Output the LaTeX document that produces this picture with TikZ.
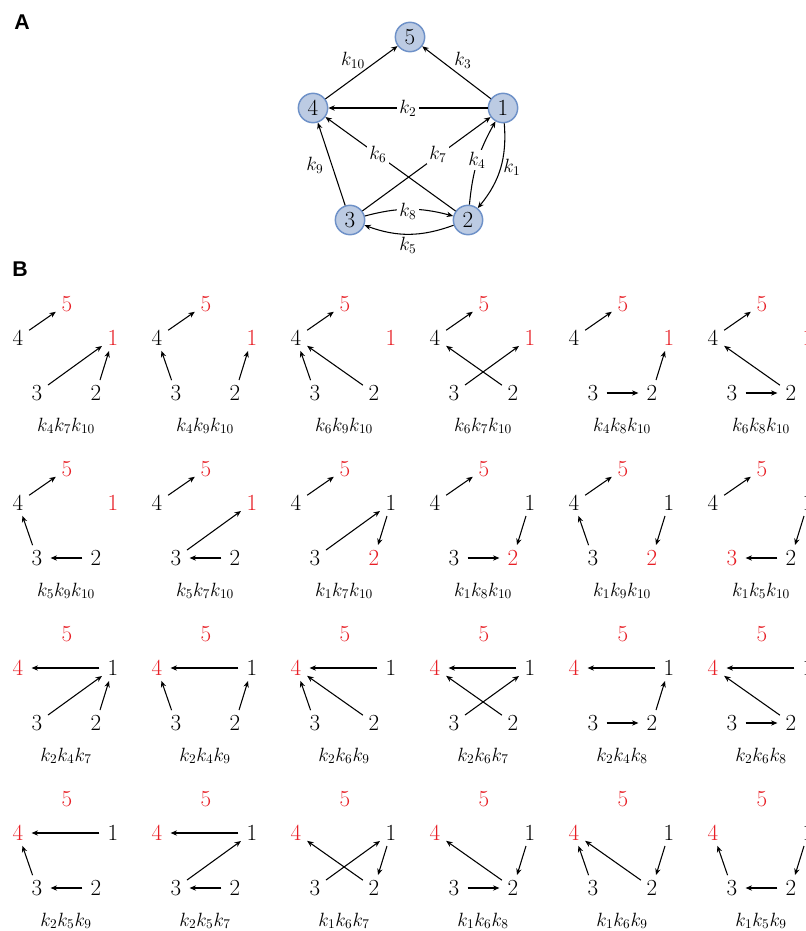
\documentclass[tikz,border=0pt]{standalone}
\usepackage{fontspec}
\newfontfamily\arialfont{Liberation Sans}
\usetikzlibrary{arrows.meta}
\definecolor{myred}{RGB}{232,30,37}
\definecolor{nodefill}{RGB}{188,203,227}
\definecolor{nodedraw}{RGB}{110,145,200}
\newcommand\mkcell[9]{%
  \begin{scope}[shift={({18+139*#2},{-(338+165*#3)})}]
    \node[dig,text=#4] (#1-5) at (49,34) {5};
    \node[dig,text=#5] (#1-4) at (0,0) {4};
    \node[dig,text=#6] (#1-1) at (95,0) {1};
    \node[dig,text=#7] (#1-3) at (19,-55) {3};
    \node[dig,text=#8] (#1-2) at (78,-55) {2};
    \node[captext] (#1-L) at (48,-93) {#9};
  \end{scope}}
\newcommand\E[3]{\draw[arr] (#1-#2) -- (#1-#3);}
\begin{document}
\begin{tikzpicture}[x=0.75pt,y=0.75pt,
  dig/.style={circle,inner sep=0pt,minimum size=20pt,font=\fontsize{17.28}{17.28}\selectfont},
  captext/.style={inner sep=0pt,anchor=base,font=\fontsize{14.4}{14.4}\selectfont},
  arr/.style={-{Stealth[length=4.8pt,width=4pt]},line width=0.8pt},
  anode/.style={circle,draw=nodedraw,fill=nodefill,line width=1.1pt,minimum size=22pt,inner sep=0pt,font=\fontsize{17.28}{17.28}\selectfont},
  alab/.style={inner sep=1pt,font=\fontsize{14.4}{14.4}\selectfont},
  ilab/.style={alab,fill=white,inner sep=1.5pt},
  panel/.style={font=\arialfont\bfseries\fontsize{16}{16}\selectfont}]
\fill[white] (0,0) rectangle (806,-931);
\useasboundingbox (0,0) rectangle (806,-931);
\clip (0,0) rectangle (806,-931);

% Panel labels
\node[panel] (labA) at (22,-22) {A};
\node[panel] (labB) at (20,-269) {B};

% Panel A
\node[anode] (a5) at (410,-37) {5};
\node[anode] (a4) at (313,-108) {4};
\node[anode] (a1) at (503,-108) {1};
\node[anode] (a3) at (350,-220) {3};
\node[anode] (a2) at (468,-220) {2};
\draw[arr] (a4) -- (a5);
\draw[arr] (a1) -- (a5);
\draw[arr] (a1) -- (a4);
\draw[arr] (a2) -- (a4);
\draw[arr] (a3) -- (a1);
\draw[arr] (a3) -- (a4);
\draw[arr] (a2) to[bend left=12] (a1);
\draw[arr] (a1) to[bend left=22] (a2);
\draw[arr] (a3) to[bend left=15] (a2);
\draw[arr] (a2) to[bend left=20] (a3);
\node[alab] (lk10) at (353,-60) {$k_{10}$};
\node[alab] (lk3) at (463,-60) {$k_{3}$};
\node[ilab] (lk2) at (408,-108) {$k_{2}$};
\node[ilab] (lk6) at (378,-154) {$k_{6}$};
\node[ilab] (lk7) at (438,-154) {$k_{7}$};
\node[alab] (lk9) at (315,-165) {$k_{9}$};
\node[ilab] (lk4) at (477,-160) {$k_{4}$};
\node[alab] (lk1) at (512,-167) {$k_{1}$};
\node[ilab] (lk8) at (408,-211) {$k_{8}$};
\node[alab] (lk5) at (408,-245) {$k_{5}$};

% Panel B, row 1
\mkcell{r1c1}{0}{0}{myred}{black}{myred}{black}{black}{$k_4k_7k_{10}$}
\E{r1c1}{4}{5}\E{r1c1}{3}{1}\E{r1c1}{2}{1}
\mkcell{r1c2}{1}{0}{myred}{black}{myred}{black}{black}{$k_4k_9k_{10}$}
\E{r1c2}{4}{5}\E{r1c2}{3}{4}\E{r1c2}{2}{1}
\mkcell{r1c3}{2}{0}{myred}{black}{myred}{black}{black}{$k_6k_9k_{10}$}
\E{r1c3}{4}{5}\E{r1c3}{3}{4}\E{r1c3}{2}{4}
\mkcell{r1c4}{3}{0}{myred}{black}{myred}{black}{black}{$k_6k_7k_{10}$}
\E{r1c4}{4}{5}\E{r1c4}{2}{4}\E{r1c4}{3}{1}
\mkcell{r1c5}{4}{0}{myred}{black}{myred}{black}{black}{$k_4k_8k_{10}$}
\E{r1c5}{4}{5}\E{r1c5}{3}{2}\E{r1c5}{2}{1}
\mkcell{r1c6}{5}{0}{myred}{black}{myred}{black}{black}{$k_6k_8k_{10}$}
\E{r1c6}{4}{5}\E{r1c6}{3}{2}\E{r1c6}{2}{4}

% row 2
\mkcell{r2c1}{0}{1}{myred}{black}{myred}{black}{black}{$k_5k_9k_{10}$}
\E{r2c1}{4}{5}\E{r2c1}{3}{4}\E{r2c1}{2}{3}
\mkcell{r2c2}{1}{1}{myred}{black}{myred}{black}{black}{$k_5k_7k_{10}$}
\E{r2c2}{4}{5}\E{r2c2}{3}{1}\E{r2c2}{2}{3}
\mkcell{r2c3}{2}{1}{myred}{black}{black}{black}{myred}{$k_1k_7k_{10}$}
\E{r2c3}{4}{5}\E{r2c3}{3}{1}\E{r2c3}{1}{2}
\mkcell{r2c4}{3}{1}{myred}{black}{black}{black}{myred}{$k_1k_8k_{10}$}
\E{r2c4}{4}{5}\E{r2c4}{1}{2}\E{r2c4}{3}{2}
\mkcell{r2c5}{4}{1}{myred}{black}{black}{black}{myred}{$k_1k_9k_{10}$}
\E{r2c5}{4}{5}\E{r2c5}{3}{4}\E{r2c5}{1}{2}
\mkcell{r2c6}{5}{1}{myred}{black}{black}{myred}{black}{$k_1k_5k_{10}$}
\E{r2c6}{4}{5}\E{r2c6}{1}{2}\E{r2c6}{2}{3}

% row 3
\mkcell{r3c1}{0}{2}{myred}{myred}{black}{black}{black}{$k_2k_4k_7$}
\E{r3c1}{1}{4}\E{r3c1}{3}{1}\E{r3c1}{2}{1}
\mkcell{r3c2}{1}{2}{myred}{myred}{black}{black}{black}{$k_2k_4k_9$}
\E{r3c2}{1}{4}\E{r3c2}{3}{4}\E{r3c2}{2}{1}
\mkcell{r3c3}{2}{2}{myred}{myred}{black}{black}{black}{$k_2k_6k_9$}
\E{r3c3}{1}{4}\E{r3c3}{3}{4}\E{r3c3}{2}{4}
\mkcell{r3c4}{3}{2}{myred}{myred}{black}{black}{black}{$k_2k_6k_7$}
\E{r3c4}{1}{4}\E{r3c4}{2}{4}\E{r3c4}{3}{1}
\mkcell{r3c5}{4}{2}{myred}{myred}{black}{black}{black}{$k_2k_4k_8$}
\E{r3c5}{1}{4}\E{r3c5}{3}{2}\E{r3c5}{2}{1}
\mkcell{r3c6}{5}{2}{myred}{myred}{black}{black}{black}{$k_2k_6k_8$}
\E{r3c6}{1}{4}\E{r3c6}{3}{2}\E{r3c6}{2}{4}

% row 4
\mkcell{r4c1}{0}{3}{myred}{myred}{black}{black}{black}{$k_2k_5k_9$}
\E{r4c1}{1}{4}\E{r4c1}{3}{4}\E{r4c1}{2}{3}
\mkcell{r4c2}{1}{3}{myred}{myred}{black}{black}{black}{$k_2k_5k_7$}
\E{r4c2}{1}{4}\E{r4c2}{3}{1}\E{r4c2}{2}{3}
\mkcell{r4c3}{2}{3}{myred}{myred}{black}{black}{black}{$k_1k_6k_7$}
\E{r4c3}{2}{4}\E{r4c3}{3}{1}\E{r4c3}{1}{2}
\mkcell{r4c4}{3}{3}{myred}{myred}{black}{black}{black}{$k_1k_6k_8$}
\E{r4c4}{2}{4}\E{r4c4}{3}{2}\E{r4c4}{1}{2}
\mkcell{r4c5}{4}{3}{myred}{myred}{black}{black}{black}{$k_1k_6k_9$}
\E{r4c5}{3}{4}\E{r4c5}{2}{4}\E{r4c5}{1}{2}
\mkcell{r4c6}{5}{3}{myred}{myred}{black}{black}{black}{$k_1k_5k_9$}
\E{r4c6}{3}{4}\E{r4c6}{2}{3}\E{r4c6}{1}{2}
\end{tikzpicture}
\end{document}
